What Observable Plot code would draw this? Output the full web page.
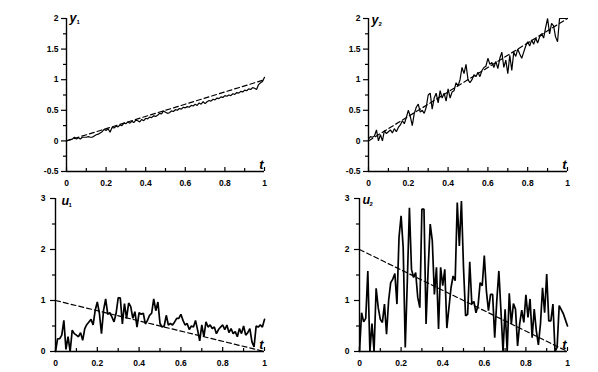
<!DOCTYPE html>
<html><head><meta charset="utf-8">
<script src="https://cdn.jsdelivr.net/npm/d3@7"></script>
<script src="https://cdn.jsdelivr.net/npm/@observablehq/plot@0.6"></script>
<style>
body{margin:0;background:#fff;}
#root{position:relative;width:598px;height:372px;overflow:hidden;background:#fff;}
.panel{position:absolute;}
</style></head><body><div id="root"></div>
<script>
const tGrid = d3.range(101).map(i => i / 100);

const y1 = [0.00,0.01,0.02,0.03,0.06,0.03,0.05,0.03,0.06,0.06,
 0.06,0.07,0.06,0.06,0.08,0.10,0.11,0.13,0.15,0.19,
 0.17,0.20,0.14,0.22,0.21,0.24,0.23,0.26,0.25,0.29,
 0.28,0.31,0.29,0.32,0.30,0.34,0.33,0.31,0.35,0.33,
 0.37,0.36,0.39,0.38,0.41,0.40,0.42,0.45,0.44,0.49,
 0.47,0.45,0.46,0.49,0.48,0.51,0.50,0.53,0.52,0.55,
 0.54,0.56,0.55,0.58,0.57,0.60,0.58,0.62,0.60,0.64,
 0.61,0.64,0.66,0.65,0.68,0.67,0.70,0.69,0.72,0.71,
 0.74,0.73,0.75,0.74,0.77,0.76,0.79,0.78,0.81,0.80,
 0.83,0.82,0.85,0.84,0.87,0.86,0.84,0.92,0.95,0.97,
 1.04];

const y2 = [0.03,0.07,0.06,0.08,0.18,0.00,0.10,0.00,0.17,0.12,
 0.15,0.18,0.13,0.20,0.15,0.22,0.26,0.33,0.28,0.38,
 0.50,0.40,0.25,0.45,0.55,0.60,0.47,0.50,0.45,0.55,
 0.75,0.78,0.52,0.70,0.78,0.62,0.82,0.70,0.78,0.65,
 0.85,0.70,0.80,0.82,0.95,0.90,1.00,1.20,1.10,1.25,
 1.00,0.95,1.00,1.08,1.05,1.12,1.05,1.15,1.20,1.22,
 1.35,1.25,1.28,1.20,1.30,1.18,1.35,1.45,1.20,1.32,
 1.10,1.40,1.15,1.45,1.38,1.50,1.42,1.35,1.45,1.55,
 1.62,1.55,1.65,1.58,1.68,1.60,1.70,1.75,1.68,1.85,
 2.00,1.75,1.92,1.88,1.70,1.62,2.00,2.00,2.00,2.00,
 2.00];

const u1 = [0.00,0.25,0.25,0.32,0.61,0.04,0.29,0.00,0.42,0.35,
 0.32,0.29,0.37,0.22,0.45,0.53,0.58,0.63,0.52,0.81,
 0.97,0.75,0.35,0.81,1.03,0.73,0.76,0.68,0.58,0.75,
 1.05,1.05,0.54,0.94,0.65,0.95,0.88,0.65,0.78,0.48,
 0.76,0.73,0.75,0.54,0.61,0.71,0.75,1.03,0.80,0.97,
 0.55,0.48,0.50,0.71,0.52,0.55,0.52,0.58,0.65,0.65,
 0.73,0.61,0.52,0.55,0.43,0.50,0.48,0.61,0.42,0.21,
 0.52,0.29,0.58,0.48,0.52,0.45,0.48,0.35,0.43,0.48,
 0.52,0.43,0.52,0.37,0.45,0.35,0.39,0.29,0.45,0.35,
 0.50,0.32,0.37,0.45,0.19,0.09,0.50,0.48,0.52,0.48,
 0.63];

const u2 = [0.00,0.76,0.58,0.65,1.58,0.00,0.55,0.00,1.24,0.86,
 0.63,0.57,0.93,0.34,1.00,1.35,1.42,1.53,0.93,2.24,
 2.66,2.04,0.08,1.40,2.82,1.61,1.45,1.55,1.06,0.86,
 2.79,2.79,0.54,1.60,2.50,2.17,1.12,1.65,0.44,1.65,
 1.29,1.61,0.46,0.86,1.25,1.48,1.39,2.92,2.07,2.95,
 1.65,0.70,0.73,1.76,0.93,0.98,0.76,0.90,1.35,1.29,
 1.88,1.19,0.80,1.12,1.12,0.27,0.99,1.58,0.80,0.00,
 0.83,0.00,1.14,0.54,0.94,0.83,0.11,0.54,0.81,0.57,
 1.11,0.67,1.03,0.27,0.83,0.41,0.13,0.54,1.25,0.76,
 1.52,0.60,0.60,0.93,0.00,0.08,0.90,0.82,0.74,0.62,
 0.50];

const refT = [0, 1];
const y1Ref = [0, 1];
const y2Ref = [0, 2];
const u1Ref = [1, 0];
const u2Ref = [2, 0];

const xTicks = [0, 0.2, 0.4, 0.6, 0.8, 1];
const xMinor = [0.1, 0.3, 0.5, 0.7, 0.9];
const yTicksTop = [-0.5, 0, 0.5, 1, 1.5, 2];
const yMinorTop = [-0.25, 0.25, 0.75, 1.25, 1.75];
const yTicksBottom = [0, 1, 2, 3];
const yMinorBottom = [0.5, 1.5, 2.5];

const FONT = "'Liberation Sans', Arial, sans-serif";

function panel(o) {
  const data = tGrid.map((t, i) => ({t, v: o.series[i]}));
  const refData = refT.map((t, i) => ({t, v: o.ref[i]}));
  const [y0, yTop] = o.yDomain;
  const chart = Plot.plot({
    width: o.w, height: o.h,
    marginLeft: o.ml, marginRight: o.mr, marginTop: o.mt, marginBottom: o.mb,
    x: {domain: [0, 1]},
    y: {domain: o.yDomain},
    style: {fontFamily: FONT, fontSize: "8.5px", fontWeight: "bold", color: "black", background: "white", overflow: "visible"},
    marks: [
      Plot.axisX({ticks: xTicks, tickFormat: d => String(d), tickSize: -4, tickPadding: 12, label: null, strokeWidth: 1.2}),
      Plot.axisX({ticks: xMinor, tickFormat: () => "", tickSize: -3, label: null, strokeWidth: 1.2}),
      Plot.axisY({ticks: o.yTicks, tickFormat: d => String(d), tickSize: 5, tickPadding: o.ypad, label: null, strokeWidth: 1.2}),
      Plot.axisY({ticks: o.yMinor, tickFormat: () => "", tickSize: 3, label: null, strokeWidth: 1.2}),
      Plot.ruleX([0], {y1: y0, y2: yTop, stroke: "black", strokeWidth: 1.4}),
      Plot.ruleY([y0], {x1: 0, x2: 1, stroke: "black", strokeWidth: 1.4}),
      Plot.line(refData, {x: "t", y: "v", stroke: "black", strokeWidth: 1.2, strokeDasharray: "5,3"}),
      Plot.line(data, {x: "t", y: "v", stroke: "black", strokeWidth: o.sw, strokeLinejoin: "miter"}),
      Plot.text([o.name], {frameAnchor: "top-left", dx: o.ndx, dy: o.ndy, textAnchor: "start", lineAnchor: "top", fontSize: 12.5, fontStyle: "italic", fontWeight: "bold", fontFamily: FONT}),
      Plot.text([o.sub], {frameAnchor: "top-left", dx: o.ndx + 7, dy: o.ndy + 6, textAnchor: "start", lineAnchor: "top", fontSize: 6, fontWeight: "bold", fontFamily: FONT}),
      Plot.text(["t"], {frameAnchor: "bottom-right", dx: -1, dy: -3, textAnchor: "end", lineAnchor: "bottom", fontSize: 13, fontStyle: "italic", fontWeight: "bold", fontFamily: FONT})
    ]
  });
  const div = document.createElement("div");
  div.className = "panel";
  div.style.left = o.left + "px";
  div.style.top = o.top + "px";
  div.appendChild(chart);
  document.getElementById("root").appendChild(div);
}

panel({left: 0, top: 0, w: 299, h: 186, ml: 66, mr: 35, mt: 18, mb: 15,
  series: y1, ref: y1Ref, yDomain: [-0.5, 2], yTicks: yTicksTop, yMinor: yMinorTop, ypad: 3,
  name: "y", sub: "1", ndx: 3, ndy: -5, sw: 1.2});
panel({left: 299, top: 0, w: 299, h: 186, ml: 69, mr: 31, mt: 18, mb: 15,
  series: y2, ref: y2Ref, yDomain: [-0.5, 2], yTicks: yTicksTop, yMinor: yMinorTop, ypad: 3,
  name: "y", sub: "2", ndx: 3, ndy: -3, sw: 1.2});
panel({left: 0, top: 186, w: 299, h: 186, ml: 55, mr: 35, mt: 12, mb: 21,
  series: u1, ref: u1Ref, yDomain: [0, 3], yTicks: yTicksBottom, yMinor: yMinorBottom, ypad: 5,
  name: "u", sub: "1", ndx: 6, ndy: -2, sw: 1.7});
panel({left: 299, top: 186, w: 299, h: 186, ml: 60, mr: 31, mt: 12, mb: 21,
  series: u2, ref: u2Ref, yDomain: [0, 3], yTicks: yTicksBottom, yMinor: yMinorBottom, ypad: 5,
  name: "u", sub: "2", ndx: 3, ndy: -3, sw: 1.7});
</script>
</body></html>
